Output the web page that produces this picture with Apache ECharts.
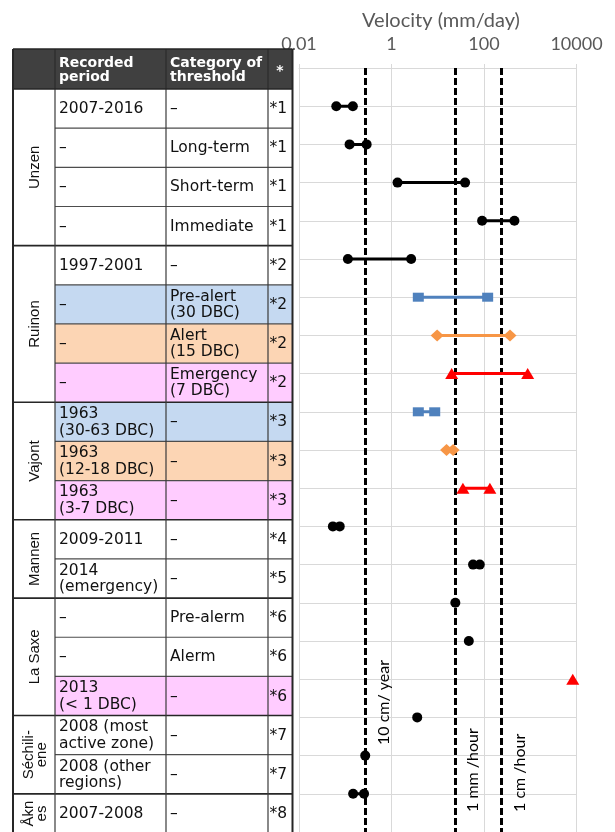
<!DOCTYPE html>
<html>
<head>
<meta charset="utf-8">
<script src="https://cdn.jsdelivr.net/npm/echarts@6/dist/echarts.min.js"></script>
<style>
  html, body { margin: 0; padding: 0; background: #fff; }
  #chart { width: 615px; height: 832px; }
</style>
</head>
<body>
<div id="chart"></div>
<script>
// ---- Table content ---------------------------------------------------------
const sites = ['Unzen', 'Ruinon', 'Vajont', 'Mannen', 'La Saxe', 'Séchili-\nene', 'Åkn\nes'];
const siteRowCounts = [4, 4, 3, 2, 3, 2, 1];

const periods = [
  '2007-2016', '–', '–', '–',
  '1997-2001', '–', '–', '–',
  '1963\n(30-63 DBC)', '1963\n(12-18 DBC)', '1963\n(3-7 DBC)',
  '2009-2011', '2014\n(emergency)',
  '–', '–', '2013\n(< 1 DBC)',
  '2008 (most\nactive zone)', '2008 (other\nregions)',
  '2007-2008'
];
const categories = [
  '–', 'Long-term', 'Short-term', 'Immediate',
  '–', 'Pre-alert\n(30 DBC)', 'Alert\n(15 DBC)', 'Emergency\n(7 DBC)',
  '–', '–', '–',
  '–', '–',
  'Pre-alerm', 'Alerm', '–',
  '–', '–',
  '–'
];
const refs = [
  '*1', '*1', '*1', '*1',
  '*2', '*2', '*2', '*2',
  '*3', '*3', '*3',
  '*4', '*5',
  '*6', '*6', '*6',
  '*7', '*7',
  '*8'
];
// warning phase of each record ('' = general record)
const phases = [
  '', '', '', '',
  '', 'pre', 'alert', 'emergency',
  'pre', 'alert', 'emergency',
  '', '',
  '', '', 'emergency',
  '', '',
  ''
];

// ---- Velocities (mm/day): lower and upper end of each record -----------------
const velocityLow = [
  0.064, 0.124, 1.35, 91,
  0.114, 3.8, 9.7, 20,
  3.8, 15.5, 35,
  0.054, 58,
  24, 47, 8300,
  3.6, 0.27,
  0.148
];
const velocityHigh = [
  0.146, 0.29, 39, 455,
  2.66, 120, 365, 880,
  8.6, 21.5, 134,
  0.076, 81,
  null, null, null,
  null, null,
  0.255
];

const axisTitle = 'Velocity (mm/day)';
const tickLabels = ['0.01', '1', '100', '10000'];
const thresholdValues = [0.274, 24, 240];
const thresholdNames = ['10 cm/ year', '1 mm /hour', '1 cm /hour'];

// ---- Styles -----------------------------------------------------------------
const markerStyles = {
  '':        { symbol: 'circle',   size: 10,       color: '#000000' },
  pre:       { symbol: 'rect',     size: [11, 9],  color: '#4f81bd' },
  alert:     { symbol: 'diamond',  size: [13, 12], color: '#f79646' },
  emergency: { symbol: 'triangle', size: [13, 11], color: '#ff0000' }
};
const cellFills = { pre: '#c5d9f1', alert: '#fcd5b4', emergency: '#ffccff' };

const chart = echarts.init(document.getElementById('chart'), null, { renderer: 'canvas' });

const series = periods.map((p, i) => {
  const st = markerStyles[phases[i]];
  const pts = [[velocityLow[i], i + 1]];
  if (velocityHigh[i] != null) pts.push([velocityHigh[i], i + 1]);
  return {
    type: 'line',
    data: pts,
    symbol: st.symbol,
    symbolSize: st.size,
    showSymbol: true,
    lineStyle: { color: st.color, width: 3 },
    itemStyle: { color: st.color },
    animation: false,
    silent: true,
    z: 5
  };
});

series.push({
  type: 'line',
  data: [],
  z: 3,
  markLine: {
    symbol: 'none',
    silent: true,
    animation: false,
    label: { show: false },
    lineStyle: { color: '#000', width: 3, type: [7, 3] },
    data: thresholdValues.map(v => ({ xAxis: v }))
  }
});

// ---- Table drawn as graphic elements -----------------------------------------
const COLS = [13, 55, 166, 268, 292.5];
const HEAD_TOP = 49, HEAD_BOTTOM = 89, ROW_H = 39.16;
const rowTop = i => HEAD_BOTTOM + ROW_H * i;
const BODY_BOTTOM = rowTop(periods.length);
const bodyFont = '15.5px "DejaVu Sans"';
const headFont = 'bold 14px "DejaVu Sans"';

function tableElements() {
  const els = [];
  els.push({ type: 'rect', shape: { x: COLS[0], y: HEAD_TOP, width: COLS[4] - COLS[0], height: HEAD_BOTTOM - HEAD_TOP },
    style: { fill: '#404040' } });
  phases.forEach((ph, i) => {
    if (ph) {
      els.push({ type: 'rect', shape: { x: COLS[1], y: rowTop(i), width: COLS[4] - COLS[1], height: ROW_H },
        style: { fill: cellFills[ph] } });
    }
  });
  // header texts
  els.push({ type: 'text', x: 59, y: 70, style: { text: 'Recorded\nperiod', font: headFont, fill: '#fff',
    textAlign: 'left', textVerticalAlign: 'middle', lineHeight: 14 } });
  els.push({ type: 'text', x: 170, y: 70, style: { text: 'Category of\nthreshold', font: headFont, fill: '#fff',
    textAlign: 'left', textVerticalAlign: 'middle', lineHeight: 14 } });
  els.push({ type: 'text', x: 280, y: 71, style: { text: '*', font: headFont, fill: '#fff',
    textAlign: 'center', textVerticalAlign: 'middle' } });
  // header column separators
  [COLS[1], COLS[2], COLS[3]].forEach(x => {
    els.push({ type: 'line', shape: { x1: x, y1: HEAD_TOP, x2: x, y2: HEAD_BOTTOM }, style: { stroke: '#262626', lineWidth: 1 } });
  });
  // body texts
  periods.forEach((p, i) => {
    const cy = rowTop(i) + ROW_H / 2 + 0.5;
    els.push({ type: 'text', x: 59, y: cy, style: { text: p, font: bodyFont, fill: '#111',
      textAlign: 'left', textVerticalAlign: 'middle', lineHeight: 16.5 } });
    els.push({ type: 'text', x: 170, y: cy, style: { text: categories[i], font: bodyFont, fill: '#111',
      textAlign: 'left', textVerticalAlign: 'middle', lineHeight: 16.5 } });
    els.push({ type: 'text', x: 269.5, y: cy, style: { text: refs[i], font: bodyFont, fill: '#111',
      textAlign: 'left', textVerticalAlign: 'middle' } });
  });
  // inner row lines
  const groupStarts = new Set();
  let acc = 0;
  siteRowCounts.forEach(n => { groupStarts.add(acc); acc += n; });
  for (let i = 1; i < periods.length; i++) {
    if (!groupStarts.has(i)) {
      els.push({ type: 'line', shape: { x1: COLS[1], y1: rowTop(i), x2: COLS[4], y2: rowTop(i) },
        style: { stroke: '#4d4d4d', lineWidth: 1.2 } });
    }
  }
  // group boundaries and site names
  acc = 0;
  siteRowCounts.forEach((n, g) => {
    if (acc > 0) {
      els.push({ type: 'line', shape: { x1: COLS[0], y1: rowTop(acc), x2: COLS[4], y2: rowTop(acc) },
        style: { stroke: '#262626', lineWidth: 1.6 } });
    }
    const cy = (rowTop(acc) + rowTop(acc + n)) / 2;
    els.push({ type: 'text', x: 35, y: cy, rotation: Math.PI / 2,
      style: { text: sites[g], font: '15px "Liberation Sans"', fill: '#111',
        textAlign: 'center', textVerticalAlign: 'middle', lineHeight: 13 } });
    acc += n;
  });
  // column lines and outer border
  [COLS[1], COLS[2], COLS[3]].forEach(x => {
    els.push({ type: 'line', shape: { x1: x, y1: HEAD_BOTTOM, x2: x, y2: BODY_BOTTOM }, style: { stroke: '#3a3a3a', lineWidth: 1.2 } });
  });
  els.push({ type: 'line', shape: { x1: COLS[0], y1: HEAD_BOTTOM, x2: COLS[4], y2: HEAD_BOTTOM }, style: { stroke: '#262626', lineWidth: 1.5 } });
  els.push({ type: 'line', shape: { x1: COLS[0], y1: HEAD_TOP, x2: COLS[0], y2: BODY_BOTTOM }, style: { stroke: '#262626', lineWidth: 2 } });
  els.push({ type: 'line', shape: { x1: COLS[4], y1: HEAD_TOP, x2: COLS[4], y2: BODY_BOTTOM }, style: { stroke: '#262626', lineWidth: 2 } });
  els.push({ type: 'line', shape: { x1: COLS[0], y1: HEAD_TOP, x2: COLS[4], y2: HEAD_TOP }, style: { stroke: '#262626', lineWidth: 1.5 } });
  return els.map(e => Object.assign({ z: 100, silent: true }, e));
}

const option = {
  animation: false,
  backgroundColor: '#fff',
  title: {
    text: axisTitle,
    left: 436,
    top: 6,
    textAlign: 'center',
    textStyle: { color: '#595959', fontSize: 20, fontWeight: 'normal', fontFamily: 'Lato' }
  },
  grid: { left: 299, right: 38.5, top: 68, height: 783.4, containLabel: false },
  xAxis: {
    type: 'log',
    logBase: 100,
    min: 0.01,
    max: 10000,
    position: 'top',
    axisLine: { show: true, lineStyle: { color: '#d9d9d9', width: 1 } },
    axisTick: { show: true, length: 4, lineStyle: { color: '#d9d9d9' } },
    axisLabel: {
      color: '#595959', fontSize: 18, fontFamily: 'Lato', margin: 15,
      formatter: (v, idx) => tickLabels[idx]
    },
    splitLine: { show: true, lineStyle: { color: '#d9d9d9', width: 1 } },
    minorTick: { show: false }
  },
  yAxis: {
    type: 'value',
    inverse: true,
    min: 0,
    max: 20,
    interval: 1,
    axisLine: { show: false },
    axisTick: { show: false },
    axisLabel: { show: false },
    splitLine: { show: true, lineStyle: { color: '#d9d9d9', width: 1 } }
  },
  series: series,
  graphic: tableElements()
};

chart.setOption(option);

// Threshold labels placed beside their dashed lines
const labelEnds = [745, 812, 812];
const thresholdLabels = thresholdValues.map((v, i) => {
  const px = chart.convertToPixel({ xAxisIndex: 0 }, v);
  return {
    type: 'text', x: px + 18, y: labelEnds[i], rotation: Math.PI / 2, z: 50, silent: true,
    style: { text: thresholdNames[i], font: '16px Lato', fill: '#000', textAlign: 'left', textVerticalAlign: 'middle' }
  };
});
chart.setOption({ graphic: tableElements().concat(thresholdLabels) }, { replaceMerge: ['graphic'] });
</script>
</body>
</html>
